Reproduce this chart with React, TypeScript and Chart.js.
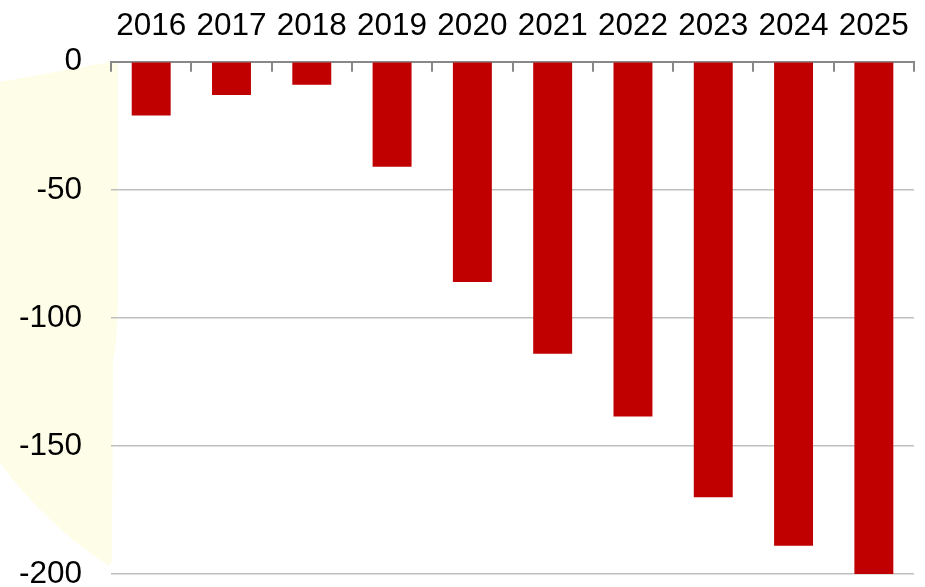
import React, { useEffect, useRef } from "react";
import { Chart, registerables } from "chart.js";

Chart.register(...registerables);

const categories = ["2016", "2017", "2018", "2019", "2020", "2021", "2022", "2023", "2024", "2025"];
const values = [-21, -13, -9, -41, -86, -114, -138.5, -170, -189, -200];
const yTicks = [0, -50, -100, -150, -200];

const FONT = "'Liberation Sans', Arial, Helvetica, sans-serif";

const blobPlugin = {
  id: "blob",
  beforeDraw(chart: any) {
    const ctx = chart.ctx;
    ctx.save();
    ctx.fillStyle = "#fefde8";
    ctx.beginPath();
    ctx.moveTo(0, 82);
    ctx.lineTo(110, 62);
    ctx.lineTo(118, 63);
    ctx.lineTo(118, 300);
    ctx.quadraticCurveTo(117, 340, 113, 360);
    ctx.lineTo(112, 555);
    ctx.quadraticCurveTo(112, 566, 108, 565);
    ctx.quadraticCurveTo(49, 528, 0, 463);
    ctx.closePath();
    ctx.fill();
    ctx.restore();
  },
};

const tickPlugin = {
  id: "innerTicks",
  afterDraw(chart: any) {
    const xs = chart.scales.x;
    const top = chart.chartArea.top;
    const n = categories.length;
    const ctx = chart.ctx;
    ctx.save();
    ctx.strokeStyle = "#888888";
    ctx.lineWidth = 2;
    ctx.beginPath();
    for (let i = 0; i <= n; i++) {
      const x = Math.round(xs.left + (i * xs.width) / n);
      ctx.moveTo(x, top);
      ctx.lineTo(x, top + 10);
    }
    ctx.stroke();
    ctx.restore();
  },
};

export default function App() {
  const ref = useRef<HTMLCanvasElement | null>(null);
  useEffect(() => {
    document.body.style.margin = "0";
    if (!ref.current) return;
    const chart = new Chart(ref.current, {
      type: "bar",
      data: {
        labels: categories,
        datasets: [
          {
            data: values,
            backgroundColor: "#c00000",
            borderWidth: 0,
            barPercentage: 1,
            categoryPercentage: 0.485,
          },
        ],
      },
      options: {
        responsive: false,
        animation: false,
        layout: { padding: { left: 19, right: 11, top: 7, bottom: 13 } },
        plugins: { legend: { display: false }, tooltip: { enabled: false } },
        scales: {
          x: {
            position: "top",
            grid: {
              display: true,
              drawOnChartArea: false,
              drawTicks: true,
              tickLength: 17,
              tickColor: "rgba(0,0,0,0)",
              offset: true,
            },
            border: { display: true, color: "#888888", width: 2 },
            ticks: {
              color: "#000000",
              padding: 0,
              maxRotation: 0,
              autoSkip: false,
              font: { family: FONT, size: 31.5, lineHeight: 1.2 },
            },
          },
          y: {
            min: -200,
            max: 0,
            afterBuildTicks: (scale: any) => {
              scale.ticks = yTicks.map((v) => ({ value: v }));
            },
            grid: {
              drawTicks: true,
              tickLength: 29,
              tickColor: "rgba(0,0,0,0)",
              color: (c: any) => (c.tick && c.tick.value === 0 ? "rgba(0,0,0,0)" : "#bfbfbf"),
              lineWidth: 1.5,
            },
            border: { display: false },
            ticks: {
              color: "#000000",
              padding: 0,
              font: { family: FONT, size: 31.5, lineHeight: 0.8 },
            },
          },
        },
      },
      plugins: [blobPlugin, tickPlugin],
    });
    return () => chart.destroy();
  }, []);
  return (
    <div style={{ width: 925, height: 587 }}>
      <canvas ref={ref} width={925} height={587} style={{ display: "block" }} />
    </div>
  );
}
